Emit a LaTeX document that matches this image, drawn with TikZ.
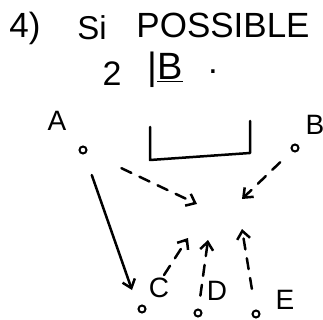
\documentclass[tikz,border=0pt]{standalone}
\usepackage{fontspec}
\setmainfont{Liberation Sans}
\usetikzlibrary{arrows.meta}
\begin{document}
\begin{tikzpicture}[x=1pt,y=-1pt,
  ink/.style={line width=2.5pt,line cap=round,line join=round},
  dsh/.style={ink,dash pattern=on 11pt off 9pt},
  tip/.style={-{Straight Barb[length=8pt,width=13pt,line width=2.5pt]}},
  pt/.style={circle,draw,line width=2pt,inner sep=0pt,minimum size=7pt},
  lbl/.style={font=\fontsize{28}{28}\selectfont,inner sep=0pt},
  ttl/.style={font=\fontsize{35}{35}\selectfont,inner sep=0pt}]
\useasboundingbox (0,0) rectangle (323,320);
% title
\node[ttl] (t1) at (25,28) {4)};
\node[ttl,font=\fontsize{33}{33}\selectfont] (t2) at (92,28) {Si};
\node[ttl] (t3) at (223,25) {POSSIBLE};
\node[ttl,font=\fontsize{34}{34}\selectfont] (t4) at (112,74) {2};
\node[ttl,font=\fontsize{38}{38}\selectfont] (t5) at (165,70) {|\underline{B}};
\node[ttl] (t6) at (213,72) {.};
% bracket
\coordinate (br1) at (150,127);
\coordinate (br2) at (150,160);
\coordinate (br3) at (250,153);
\coordinate (br4) at (250,121);
\draw[ink] (br1) -- (br2) -- (br3) -- (br4);
% points and labels
\node[pt] (pA) at (83,150) {};
\node[lbl] (lA) at (57,121) {A};
\node[pt] (pB) at (295,148) {};
\node[lbl] (lB) at (315,125) {B};
\node[pt] (pC) at (142,309) {};
\node[lbl] (lC) at (159,288) {C};
\node[pt] (pD) at (198,313) {};
\node[lbl] (lD) at (217,291) {D};
\node[pt] (pE) at (256,314) {};
\node[lbl] (lE) at (285,300) {E};
% targets
\coordinate (tA) at (197,204);
\coordinate (tB) at (242,199);
\coordinate (tC) at (188,238);
\coordinate (tD) at (208,240);
\coordinate (tE) at (242,229);
\coordinate (cA) at (132,290);
% arrows
\draw[ink,tip,shorten <=22pt] (pA) -- (cA);
\draw[dsh,tip,shorten <=38pt] (pA) -- (tA);
\draw[dsh,tip,shorten <=16pt] (pB) -- (tB);
\draw[dsh,tip,shorten <=36pt] (pC) -- (tC);
\draw[dsh,tip,shorten <=13pt] (pD) -- (tD);
\draw[dsh,tip,shorten <=21pt] (pE) -- (tE);
\end{tikzpicture}
\end{document}
